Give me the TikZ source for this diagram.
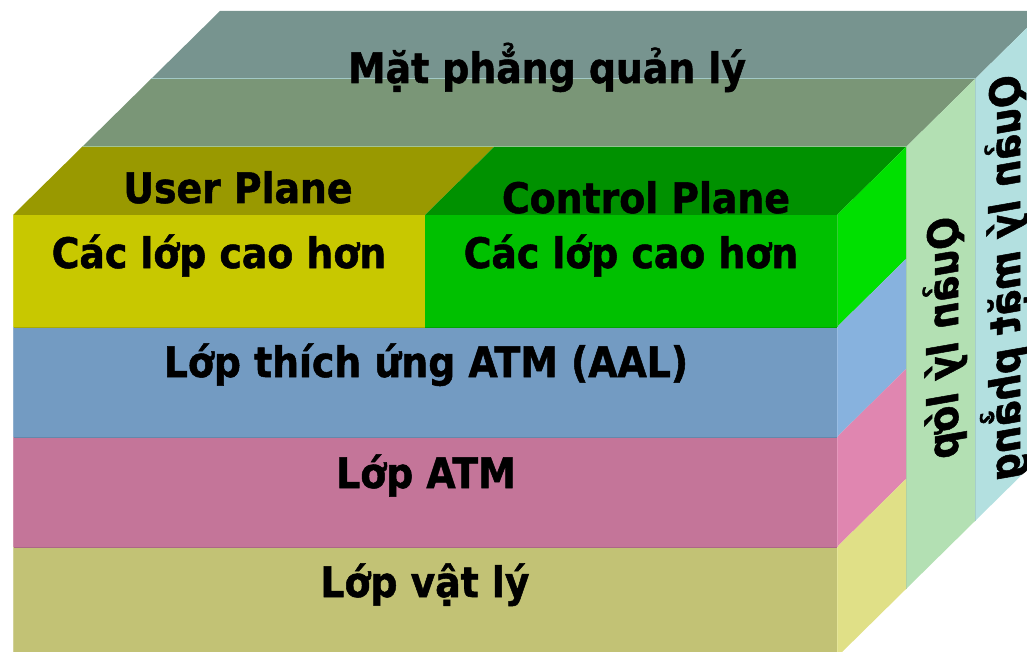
\documentclass[tikz,border=0pt]{standalone}
\usepackage{fontspec}
\newfontfamily\lblfont{DejaVu Sans Condensed}[BoldFeatures={FakeBold=1.2}, BoldItalicFeatures={FakeBold=1.2}]
% face colours
\definecolor{pmTop}{HTML}{77948F}
\definecolor{pmSide}{HTML}{B3E0E0}
\definecolor{pmEdge}{HTML}{A2C9C6}
\definecolor{lmTop}{HTML}{7A9677}
\definecolor{lmSide}{HTML}{B3E0B3}
\definecolor{lmEdge}{HTML}{A6CBA6}
\definecolor{upTop}{HTML}{999900}
\definecolor{upFront}{HTML}{C8C800}
\definecolor{cpTop}{HTML}{009100}
\definecolor{cpFront}{HTML}{00C000}
\definecolor{cpSide}{HTML}{00E000}
\definecolor{aalFront}{HTML}{739BC2}
\definecolor{aalSide}{HTML}{87B2DE}
\definecolor{atmFront}{HTML}{C47599}
\definecolor{atmSide}{HTML}{E086B0}
\definecolor{phyFront}{HTML}{C2C275}
\definecolor{phySide}{HTML}{E0E087}
\begin{document}
\begin{tikzpicture}[x=1pt,y=-1pt,
  edge/.style={line width=1pt},
  lbl/.style={font=\lblfont\bfseries\fontsize{42}{48}\selectfont, inner sep=0pt, anchor=base},
  vlbl/.style={font=\lblfont\bfseries\itshape\fontsize{42}{48}\selectfont, inner sep=0pt, anchor=base, rotate=-90, yscale=-1}]
\useasboundingbox (0,0) rectangle (1027,652);
\clip (0,0) rectangle (1027,652);

% plane management slab (back)
\fill[pmTop]  (151,79) -- (220,11) -- (1044,11) -- (975,79) -- cycle;
\fill[pmSide] (975,79) -- (1044,11) -- (1044,453) -- (975,521) -- cycle;
% layer management slab (middle)
\fill[lmTop]  (82,147) -- (151,79) -- (975,79) -- (906,147) -- cycle;
\fill[lmSide] (906,147) -- (975,79) -- (975,521) -- (906,589) -- cycle;
\draw[edge, pmEdge] (151,79) -- (975,79);
\draw[edge, pmEdge!80!pmSide] (975,79) -- (975,521);
\draw[edge, lmEdge] (82,147) -- (906,147);
\draw[edge, lmEdge!70!lmSide] (906,147) -- (906,589);

% top faces of the user and control planes
\fill[upTop] (13,215) -- (82,147) -- (494,147) -- (425,215) -- cycle;
\fill[cpTop] (425,215) -- (494,147) -- (906,147) -- (837,215) -- cycle;

% front faces
\fill[upFront]  (13,215) rectangle (425,327);
\fill[cpFront]  (425,215) rectangle (837,327);
\fill[aalFront] (13,327) rectangle (837,437);
\fill[atmFront] (13,437) rectangle (837,547);
\fill[phyFront] (13,547) rectangle (837,657);

% right side faces
\fill[cpSide]  (837,215) -- (906,147) -- (906,259) -- (837,327) -- cycle;
\fill[aalSide] (837,327) -- (906,259) -- (906,369) -- (837,437) -- cycle;
\fill[atmSide] (837,437) -- (906,369) -- (906,479) -- (837,547) -- cycle;
\fill[phySide] (837,547) -- (906,479) -- (906,589) -- (837,657) -- cycle;

% subtle face borders
\draw[edge, upFront!85!black] (13,327) -- (425,327);
\draw[edge, cpFront!85!black] (425,327) -- (837,327);
\draw[edge, aalFront!88!black] (13,437) -- (837,437);
\draw[edge, atmFront!88!black] (13,547) -- (837,547);
\draw[edge, upFront!80!white] (13,215) -- (13,327);
\draw[edge, aalFront!80!white] (13,327) -- (13,437);
\draw[edge, atmFront!80!white] (13,437) -- (13,547);
\draw[edge, phyFront!75!white] (13,547) -- (13,657);
\draw[edge, cpFront!80!white] (837,215) -- (837,327);
\draw[edge, aalSide!85!white] (837,327) -- (837,437);
\draw[edge, atmSide!85!white] (837,437) -- (837,547);
\draw[edge, phySide!85!white] (837,547) -- (837,657);

% labels
\node[lbl] (mgmt)  at (547,83)  {Mặt phẳng quản lý};
\node[lbl] (userp) at (238,203) {User Plane};
\node[lbl] (ctrlp) at (646,213) {Control Plane};
\node[lbl] (uhigh) at (219,268) {Các lớp cao hơn};
\node[lbl] (chigh) at (631,268) {Các lớp cao hơn};
\node[lbl] (aal)   at (426,377) {Lớp thích ứng ATM (AAL)};
\node[lbl] (atm)   at (426,488) {Lớp ATM};
\node[lbl] (phy)   at (425,597) {Lớp vật lý};
\node[vlbl] (lmgmt) at (958,338) {Quản lý lớp};
\node[vlbl] (pmgmt) at (1020,278) {Quản lý mặt phẳng};
\end{tikzpicture}
\end{document}
